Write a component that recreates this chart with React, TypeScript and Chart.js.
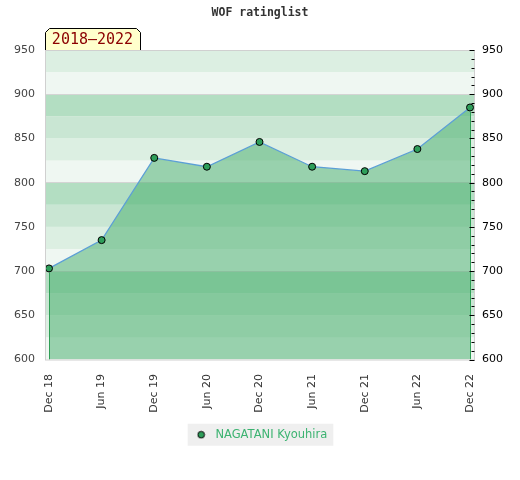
import React, { useEffect, useRef } from "react";
import { Chart, registerables } from "chart.js";

Chart.register(...registerables);

const periods = ["Dec 18", "Jun 19", "Dec 19", "Jun 20", "Dec 20", "Jun 21", "Dec 21", "Jun 22", "Dec 22"];
const ratings = [703, 735, 828, 818, 846, 818, 813, 838, 885];
const seriesName = "NAGATANI Kyouhira";
const chartTitle = "WOF ratinglist";
const periodTab = "2018\u20132022";
const yMin = 600;
const yMax = 950;
const yStep = 50;
const bandStep = 25;
const minorStep = 10;
// band colours indexed by (lower bound % 100) / 25
const bandColors = ["#eff7f2", "#dcefe2", "#c9e6d3", "#b3dec2"];

const FONT = "'DejaVu Sans', Verdana, sans-serif";

function makeMarker(): HTMLCanvasElement {
  const c = document.createElement("canvas");
  c.width = 9;
  c.height = 9;
  const g = c.getContext("2d")!;
  g.beginPath();
  g.arc(4.5, 4.5, 3.3, 0, Math.PI * 2);
  g.fillStyle = "#2e9e5a";
  g.fill();
  g.lineWidth = 1;
  g.strokeStyle = "#000";
  g.stroke();
  return c;
}

const decorPlugin = {
  id: "decor",
  beforeDraw(chart: any) {
    const { ctx, chartArea } = chart;
    const ys = chart.scales.y;
    ctx.save();
    // background bands
    for (let v = yMin; v < yMax; v += bandStep) {
      const top = ys.getPixelForValue(v + bandStep);
      const bot = ys.getPixelForValue(v);
      ctx.fillStyle = bandColors[(v % 100) / bandStep];
      ctx.fillRect(chartArea.left, top, chartArea.right - chartArea.left, bot - top);
    }
    // tab with period
    const tl = chartArea.left;
    const tr = chartArea.left + 95;
    const tb = chartArea.top;
    const tt = chartArea.top - 22;
    const cut = 4;
    ctx.beginPath();
    ctx.moveTo(tl + 0.5, tb + 0.5);
    ctx.lineTo(tl + 0.5, tt + cut + 0.5);
    ctx.lineTo(tl + cut + 0.5, tt + 0.5);
    ctx.lineTo(tr - cut + 0.5, tt + 0.5);
    ctx.lineTo(tr + 0.5, tt + cut + 0.5);
    ctx.lineTo(tr + 0.5, tb + 0.5);
    ctx.closePath();
    ctx.fillStyle = "#ffffcc";
    ctx.fill();
    ctx.strokeStyle = "#000";
    ctx.lineWidth = 1;
    ctx.stroke();
    ctx.fillStyle = "#8b0000";
    ctx.font = "15px 'DejaVu Sans Mono', monospace";
    ctx.textAlign = "center";
    ctx.textBaseline = "middle";
    ctx.fillText(periodTab, (tl + tr) / 2, (tt + tb) / 2 + 1);
    // legend background
    const lg = chart.legend;
    if (lg && lg.legendHitBoxes && lg.legendHitBoxes.length) {
      const hb = lg.legendHitBoxes[0];
      const cy = hb.top + hb.height / 2;
      ctx.fillStyle = "#efefef";
      ctx.fillRect(hb.left - 5, cy - 11, hb.width + 11, 22);
    }
    ctx.restore();
  },
  afterDatasetsDraw(chart: any) {
    const { ctx, chartArea } = chart;
    const meta = chart.getDatasetMeta(0);
    const pts = [meta.data[0], meta.data[meta.data.length - 1]];
    ctx.save();
    ctx.strokeStyle = "#2f9e55";
    ctx.lineWidth = 1;
    pts.forEach((p: any) => {
      const x = Math.round(p.x) + 0.5;
      ctx.beginPath();
      ctx.moveTo(x, p.y + 4);
      ctx.lineTo(x, chartArea.bottom);
      ctx.stroke();
    });
    ctx.restore();
  },
  afterDraw(chart: any) {
    const { ctx, chartArea } = chart;
    const ys = chart.scales.y2;
    ctx.save();
    // plot border
    ctx.strokeStyle = "#d0d0d0";
    ctx.lineWidth = 1;
    ctx.strokeRect(chartArea.left + 0.5, chartArea.top + 0.5, chartArea.right - chartArea.left, chartArea.bottom - chartArea.top);
    // inward ticks on right axis
    ctx.strokeStyle = "#000";
    for (let v = yMin; v <= yMax; v += minorStep) {
      const y = Math.round(ys.getPixelForValue(v)) + 0.5;
      const len = v % yStep === 0 ? 5 : 3;
      ctx.beginPath();
      ctx.moveTo(chartArea.right + 0.5 - len, y);
      ctx.lineTo(chartArea.right + 0.5, y);
      ctx.stroke();
    }
    ctx.restore();
  },
};

export default function App() {
  const ref = useRef<HTMLCanvasElement>(null);

  useEffect(() => {
    const canvas = ref.current!;
    const marker = makeMarker();
    const chart = new Chart(canvas, {
      type: "line",
      data: {
        datasets: [
          {
            label: seriesName,
            data: ratings.map((r, i) => ({ x: i, y: r })),
            borderColor: "#5c9fd6",
            borderWidth: 1.3,
            backgroundColor: "rgba(65,172,104,0.5)",
            fill: "start",
            tension: 0,
            pointRadius: 3.5,
            pointBackgroundColor: "#2e9e5a",
            pointBorderColor: "#000",
            pointBorderWidth: 1,
          },
        ],
      },
      options: {
        animation: false,
        responsive: false,
        devicePixelRatio: 1,
        layout: { padding: { top: 0, bottom: 29.5, left: 0, right: 0 } },
        plugins: {
          title: {
            display: true,
            text: chartTitle,
            color: "#333",
            font: { family: "'DejaVu Sans Mono', monospace", size: 11.5, weight: "bold" },
            padding: { top: 6.5, bottom: 29.7 },
          },
          legend: {
            display: true,
            position: "bottom",
            labels: {
              usePointStyle: true,
              pointStyle: marker as any,
              pointStyleWidth: 17,
              boxHeight: 11,
              padding: 10,
              color: "#3cb371",
              font: { family: FONT, size: 11.5 },
            },
          },
          tooltip: { enabled: false },
        },
        scales: {
          x: {
            type: "linear",
            min: -0.076,
            max: 8.076,
            grid: { display: false },
            border: { display: false },
            ticks: {
              stepSize: 1,
              includeBounds: false,
              autoSkip: false,
              minRotation: 90,
              maxRotation: 90,
              padding: 6.5,
              color: "#333",
              font: { family: FONT, size: 11 },
              callback: (v: any) => (Number.isInteger(v) ? periods[v] : ""),
            },
            afterFit: (s: any) => {
              s.height = 59.5;
            },
          },
          y: {
            position: "left",
            min: yMin,
            max: yMax,
            border: { display: false },
            grid: {
              drawTicks: false,
              color: (c: any) =>
                c.tick && c.tick.value % 100 === 0 && c.tick.value !== yMin ? "#d4d4d4" : "rgba(0,0,0,0)",
            },
            ticks: {
              stepSize: yStep,
              padding: 10,
              color: "#444",
              font: { family: FONT, size: 11 },
            },
            afterFit: (s: any) => {
              s.width = 45;
            },
          },
          y2: {
            position: "right",
            min: yMin,
            max: yMax,
            border: { display: false },
            grid: { display: false, drawTicks: false },
            ticks: {
              stepSize: yStep,
              padding: 8,
              color: "#000",
              font: { family: FONT, size: 11 },
            },
            afterFit: (s: any) => {
              s.width = 46;
            },
          },
        },
      },
      plugins: [decorPlugin],
    } as any);
    return () => chart.destroy();
  }, []);

  return (
    <div style={{ position: "absolute", left: 0, top: 0, width: 520, height: 480, background: "#fff" }}>
      <canvas ref={ref} width={520} height={480} style={{ width: 520, height: 480, display: "block" }} />
    </div>
  );
}
